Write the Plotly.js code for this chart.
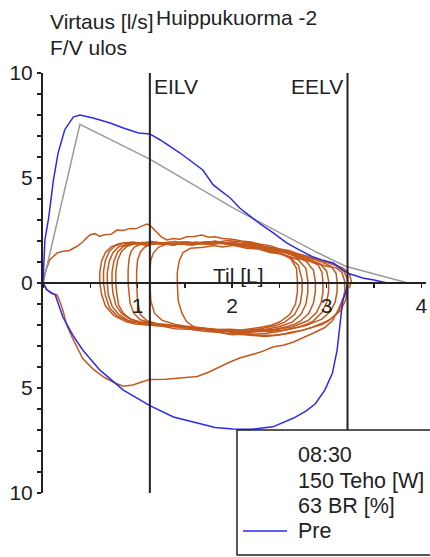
<!DOCTYPE html>
<html>
<head>
<meta charset="utf-8">
<script src="https://cdn.plot.ly/plotly-3.0.1.min.js"></script>
<style>html,body{margin:0;padding:0;background:#fff;}#chart{width:430px;height:557px;}</style>
</head>
<body>
<div id="chart"></div>
<script>
// ---------------- data ----------------
// Pre (maximal flow-volume curve), expiratory part
const preExpX = [0, 0.02, 0.06, 0.11, 0.16, 0.23, 0.32, 0.39, 0.53, 0.71, 0.85, 1.01, 1.13, 1.24, 1.45, 1.69, 1.80, 1.98, 2.08, 2.17, 2.30, 2.42, 2.58, 2.70, 2.85, 2.95, 3.07, 3.17, 3.23, 3.30, 3.38, 3.50, 3.59, 3.64];
const preExpY = [0, 2.05, 3.1, 4.9, 6.2, 7.3, 7.9, 8.0, 7.86, 7.62, 7.38, 7.14, 7.1, 6.81, 6.19, 5.38, 4.67, 4.05, 3.57, 3.24, 2.8, 2.43, 1.9, 1.6, 1.25, 1.1, 0.95, 0.62, 0.45, 0.36, 0.24, 0.14, 0.05, 0];
// Pre, inspiratory part
const preInspX = [3.22, 3.20, 3.17, 3.14, 3.11, 3.06, 2.98, 2.88, 2.78, 2.65, 2.43, 2.20, 2.01, 1.82, 1.63, 1.38, 1.13, 0.85, 0.60, 0.42, 0.32, 0.21, 0.13, 0.04, 0];
const preInspY = [0, -0.48, -0.81, -2.0, -3.2, -4.3, -5.1, -5.75, -6.1, -6.43, -6.85, -6.97, -6.95, -6.88, -6.67, -6.38, -5.84, -5.1, -4.14, -3.19, -2.52, -1.62, -0.57, -0.33, 0];
// Predicted curve (grey)
const predX = [0, 0.39, 1.13, 2.0, 2.9, 3.2, 3.86];
const predY = [0, 7.55, 5.9, 3.6, 1.45, 0.8, 0];
// First exercise breath (orange), expiratory from origin
const firstTopX = [0, 0.03, 0.07, 0.15, 0.20, 0.28, 0.36, 0.42, 0.45, 0.50, 0.55, 0.60, 0.65, 0.72, 0.78, 0.85, 0.92, 0.98, 1.05, 1.10, 1.13, 1.16, 1.20, 1.25, 1.31, 1.38, 1.45, 1.52, 1.60, 1.68, 1.75, 1.82, 1.90, 2.00, 2.10, 2.20, 2.30, 2.40, 2.50, 2.60, 2.70, 2.80, 2.90, 3.05, 3.17, 3.24, 3.26, 3.24];
const firstTopY = [0, 0.6, 1.1, 1.43, 1.5, 1.55, 1.75, 1.95, 2.1, 2.3, 2.35, 2.22, 2.3, 2.32, 2.52, 2.5, 2.6, 2.58, 2.72, 2.81, 2.75, 2.62, 2.4, 2.2, 2.05, 2.12, 2.08, 2.2, 2.22, 2.28, 2.18, 2.2, 2.12, 2.08, 2.0, 1.95, 1.85, 1.78, 1.62, 1.55, 1.38, 1.28, 1.12, 0.92, 0.72, 0.45, 0.1, -0.25];
// Orange inspiratory trace that ends at origin
const firstBotX = [0, 0.04, 0.09, 0.15, 0.18, 0.21, 0.25, 0.32, 0.42, 0.53, 0.65, 0.76, 0.85, 0.95, 1.05, 1.13, 1.30, 1.45, 1.63, 1.75, 1.84, 1.96, 2.08, 2.20, 2.30, 2.43, 2.55, 2.65, 2.76, 2.86, 2.98, 3.06, 3.12, 3.17, 3.21, 3.22];
const firstBotY = [0, -0.3, -0.5, -0.57, -0.9, -1.3, -2.0, -2.7, -3.6, -4.1, -4.5, -4.76, -4.92, -4.86, -4.7, -4.6, -4.58, -4.52, -4.45, -4.25, -4.05, -3.8, -3.57, -3.4, -3.29, -3.05, -2.95, -2.81, -2.6, -2.38, -2.12, -1.8, -1.29, -0.8, -0.35, 0];
// Tidal exercise loops (orange)
const loopX = [
 [0.60,0.60,0.62,0.66,0.72,0.81,0.95,1.05,1.15,1.25,1.40,1.52,1.62,1.70,1.82,1.92,2.00,2.12,2.25,2.38,2.50,2.62,2.75,2.85,2.95,3.03,3.10,3.18,3.22,3.22,3.20,3.15,3.05,2.95,2.85,2.72,2.60,2.45,2.30,2.18,2.00,1.85,1.70,1.55,1.40,1.25,1.10,0.98,0.88,0.75,0.66,0.62,0.60],
 [0.64,0.64,0.66,0.70,0.76,0.86,1.00,1.10,1.20,1.32,1.45,1.58,1.75,1.88,2.05,2.18,2.30,2.42,2.55,2.68,2.78,2.88,2.95,3.05,3.10,3.11,3.11,3.09,3.04,2.95,2.85,2.78,2.65,2.55,2.40,2.25,2.10,1.95,1.80,1.65,1.50,1.35,1.20,1.08,0.90,0.78,0.70,0.66,0.64],
 [0.68,0.68,0.70,0.74,0.80,0.90,1.05,1.15,1.25,1.38,1.50,1.65,1.80,1.95,2.10,2.22,2.35,2.48,2.60,2.72,2.80,2.93,3.00,3.02,3.02,3.00,2.95,2.86,2.78,2.70,2.60,2.48,2.35,2.20,2.05,1.90,1.75,1.60,1.45,1.30,1.18,1.05,0.90,0.80,0.73,0.69,0.68],
 [0.73,0.73,0.75,0.79,0.85,0.95,1.10,1.20,1.30,1.42,1.55,1.70,1.85,2.00,2.15,2.28,2.40,2.52,2.62,2.72,2.80,2.91,2.95,2.96,2.96,2.94,2.89,2.80,2.72,2.64,2.52,2.42,2.28,2.15,2.00,1.85,1.70,1.55,1.40,1.27,1.15,1.05,0.92,0.83,0.77,0.74,0.73],
 [0.77,0.77,0.79,0.83,0.89,0.99,1.15,1.25,1.35,1.48,1.60,1.75,1.90,2.05,2.20,2.32,2.45,2.55,2.65,2.72,2.78,2.86,2.88,2.88,2.86,2.81,2.72,2.65,2.56,2.45,2.35,2.22,2.08,1.95,1.80,1.65,1.50,1.35,1.22,1.10,1.02,0.92,0.85,0.80,0.78,0.77],
 [0.90,0.90,0.91,0.93,0.97,1.04,1.15,1.30,1.40,1.50,1.65,1.80,1.95,2.10,2.22,2.35,2.45,2.55,2.63,2.70,2.78,2.80,2.80,2.78,2.73,2.64,2.55,2.48,2.36,2.26,2.12,2.00,1.85,1.70,1.55,1.40,1.28,1.18,1.03,0.96,0.92,0.90],
 [0.99,0.99,1.00,1.03,1.08,1.16,1.28,1.38,1.45,1.58,1.70,1.85,2.00,2.12,2.25,2.35,2.45,2.53,2.60,2.70,2.74,2.74,2.72,2.66,2.56,2.48,2.40,2.30,2.18,2.05,1.92,1.78,1.65,1.52,1.40,1.30,1.22,1.10,1.03,1.00,0.99],
 [1.13,1.13,1.14,1.17,1.22,1.30,1.42,1.52,1.60,1.72,1.85,1.98,2.10,2.22,2.35,2.45,2.52,2.62,2.68,2.69,2.69,2.67,2.61,2.50,2.42,2.32,2.20,2.10,1.98,1.85,1.72,1.60,1.50,1.40,1.26,1.18,1.14,1.13],
 [1.42,1.42,1.44,1.48,1.56,1.70,1.80,1.90,2.02,2.15,2.28,2.40,2.52,2.65,2.75,2.85,2.93,3.00,3.10,3.16,3.19,3.19,3.17,3.12,3.02,2.95,2.86,2.75,2.62,2.50,2.35,2.20,2.05,1.92,1.80,1.70,1.60,1.52,1.47,1.43,1.42]
];
const loopY = [
 [0,0.5,1.05,1.45,1.72,1.88,1.95,1.88,1.98,1.9,1.97,1.86,1.95,1.9,2.0,1.9,1.95,1.85,1.82,1.7,1.62,1.45,1.32,1.15,1.05,0.95,0.82,0.55,0.2,-0.3,-0.8,-1.3,-1.7,-1.92,-2.1,-2.28,-2.4,-2.48,-2.5,-2.42,-2.46,-2.35,-2.3,-2.2,-2.18,-2.05,-2.0,-1.95,-1.85,-1.55,-1.1,-0.55,0],
 [0,0.55,1.08,1.5,1.76,1.9,1.86,1.8,1.94,1.85,1.88,1.8,1.96,1.88,1.85,1.9,1.74,1.66,1.5,1.35,1.22,1.1,1.0,0.78,0.45,0.05,-0.4,-0.9,-1.35,-1.72,-1.9,-2.02,-2.15,-2.25,-2.3,-2.32,-2.38,-2.26,-2.3,-2.18,-2.12,-2.05,-2.02,-1.96,-1.82,-1.55,-1.15,-0.6,0],
 [0,0.5,1.02,1.45,1.72,1.86,1.93,1.85,1.87,1.8,1.95,1.88,1.9,2.02,1.95,1.9,1.72,1.6,1.42,1.25,1.15,0.92,0.55,0.1,-0.4,-0.92,-1.4,-1.8,-1.98,-2.1,-2.2,-2.32,-2.4,-2.45,-2.38,-2.3,-2.2,-2.22,-2.1,-2.02,-1.98,-1.92,-1.78,-1.5,-1.1,-0.55,0],
 [0,0.52,1.05,1.48,1.74,1.88,1.82,1.9,1.92,1.84,1.86,1.95,1.93,1.86,1.8,1.76,1.62,1.5,1.38,1.22,1.1,0.85,0.5,0.05,-0.45,-0.95,-1.42,-1.8,-1.95,-2.08,-2.18,-2.26,-2.3,-2.35,-2.3,-2.27,-2.2,-2.12,-2.08,-2.0,-1.95,-1.88,-1.72,-1.45,-1.05,-0.5,0],
 [0,0.55,1.1,1.5,1.75,1.9,1.95,1.85,1.85,1.95,1.92,1.84,1.9,1.8,1.76,1.68,1.55,1.45,1.3,1.18,1.05,0.6,0.08,-0.4,-0.95,-1.45,-1.82,-1.98,-2.1,-2.2,-2.25,-2.28,-2.3,-2.24,-2.2,-2.15,-2.08,-2.04,-1.97,-1.9,-1.86,-1.7,-1.45,-1.05,-0.5,0],
 [0,0.6,1.15,1.5,1.72,1.86,1.92,1.88,1.82,1.95,1.9,1.86,1.92,1.74,1.7,1.56,1.48,1.32,1.22,1.1,0.7,0.1,-0.45,-1.0,-1.48,-1.85,-2.0,-2.1,-2.2,-2.25,-2.3,-2.28,-2.22,-2.18,-2.12,-2.05,-2.0,-1.95,-1.75,-1.45,-0.95,0],
 [0,0.55,1.1,1.48,1.73,1.86,1.9,1.84,1.95,1.88,1.86,1.95,1.8,1.76,1.68,1.58,1.45,1.38,1.25,0.85,0.15,-0.4,-0.98,-1.5,-1.85,-2.0,-2.08,-2.18,-2.24,-2.3,-2.28,-2.22,-2.18,-2.1,-2.05,-1.98,-1.95,-1.8,-1.5,-0.9,0],
 [0,0.55,1.1,1.45,1.7,1.84,1.9,1.82,1.85,1.95,1.92,1.84,1.8,1.7,1.6,1.5,1.4,1.15,0.7,0.1,-0.42,-1.0,-1.5,-1.86,-2.0,-2.1,-2.18,-2.24,-2.2,-2.22,-2.15,-2.1,-2.05,-1.98,-1.78,-1.45,-0.85,0],
 [0,0.5,1.05,1.45,1.65,1.7,1.78,1.72,1.8,1.65,1.62,1.45,1.38,1.2,1.12,1.0,0.92,0.8,0.72,0.5,0.1,-0.4,-0.9,-1.4,-1.8,-1.98,-2.1,-2.25,-2.35,-2.48,-2.55,-2.5,-2.45,-2.38,-2.3,-2.2,-2.1,-1.85,-1.45,-0.85,0]
];
const eilv = 1.13;
const eelv = 3.22;
const yTickVals = [-10, -5, 0, 5, 10];
const yTickText = ['10', '5', '0', '5', '10'];
const xTickVals = [1, 2, 3, 4];
const xTickText = ['1', '2', '3', '4'];

// ---------------- styling ----------------
const ORANGE = '#c4591e';
const BLUE = '#2b2bea';
const GREY = '#9a9a9a';
const DARK = '#222222';
const FONT = 'Liberation Sans, Arial, sans-serif';

// pixel layout helpers (plot area: x 43..426, y 73..493)
const L = 43, R = 4, T = 73, B = 64, W = 430, H = 557;
const PW = W - L - R, PH = H - T - B;
const px = v => (v - L) / PW;
const py = v => (H - B - v) / PH;

const traces = [];
loopX.forEach((lx, i) => {
  traces.push({x: lx, y: loopY[i], mode: 'lines', line: {color: ORANGE, width: 1.5}});
});
traces.push({x: firstTopX, y: firstTopY, mode: 'lines', line: {color: ORANGE, width: 1.5}});
traces.push({x: firstBotX, y: firstBotY, mode: 'lines', line: {color: ORANGE, width: 1.5}});
traces.push({x: predX, y: predY, mode: 'lines', line: {color: GREY, width: 1.5}});
traces.push({x: preExpX, y: preExpY, mode: 'lines', line: {color: BLUE, width: 1.5}, name: 'Pre'});
traces.push({x: preInspX, y: preInspY, mode: 'lines', line: {color: BLUE, width: 1.5}});
traces.push({x: [eilv, eilv], y: [-10, 10], mode: 'lines', line: {color: DARK, width: 2}});
traces.push({x: [eelv, eelv], y: [-10, 10], mode: 'lines', line: {color: DARK, width: 2}});

const tf = {family: FONT, size: 21, color: DARK};
const lf = {family: FONT, size: 21.5, color: DARK};
const ann = (text, x, y, xanchor, font) => ({text, x, y, xref: 'paper', yref: 'paper', xanchor: xanchor || 'left', yanchor: 'middle', showarrow: false, font: font || tf});

const layout = {
  width: W, height: H,
  margin: {l: L, r: R, t: T, b: B, pad: 0},
  paper_bgcolor: '#fff', plot_bgcolor: '#fff',
  showlegend: false,
  font: {family: FONT, color: DARK},
  xaxis: {
    range: [0, 4.05], anchor: 'free', position: 0.5,
    showgrid: false, zeroline: false, showline: true, linecolor: DARK, linewidth: 2,
    ticks: 'outside', ticklen: 4, tickwidth: 1.5, tickcolor: DARK,
    tickvals: xTickVals, ticktext: xTickText, tickfont: tf,
    minor: {dtick: 0.5, tick0: 0, ticks: 'outside', ticklen: 4, tickwidth: 1.5, tickcolor: DARK, showgrid: false}
  },
  yaxis: {
    range: [-10, 10],
    showgrid: false, zeroline: false, showline: true, linecolor: DARK, linewidth: 2,
    ticks: 'outside', ticklen: 4, tickwidth: 1.5, tickcolor: DARK,
    tickvals: yTickVals, ticktext: yTickText, tickfont: tf,
    minor: {dtick: 1, tick0: 0, ticks: 'outside', ticklen: 4, tickwidth: 1.5, tickcolor: DARK, showgrid: false}
  },
  shapes: [
    {type: 'rect', xref: 'paper', yref: 'paper', x0: px(237), x1: px(450), y0: py(555), y1: py(430),
     line: {color: DARK, width: 1.5}, fillcolor: '#fff', layer: 'above'},
    {type: 'line', xref: 'paper', yref: 'paper', x0: px(243), x1: px(287), y0: py(531), y1: py(531),
     line: {color: BLUE, width: 1.5}, layer: 'above'}
  ],
  annotations: [
    ann('Huippukuorma -2', px(154), py(17)),
    ann('Virtaus [l/s]', px(48), py(22)),
    ann('F/V ulos', px(48), py(47)),
    ann('EILV', px(152), py(86)),
    ann('EELV', px(345), py(86), 'right'),
    ann('Til [L]', px(211), py(275)),
    ann('08:30', px(296), py(455), 'left', lf),
    ann('150 Teho [W]', px(296), py(481), 'left', lf),
    ann('63 BR [%]', px(296), py(506), 'left', lf),
    ann('Pre', px(296), py(531), 'left', lf)
  ]
};

Plotly.newPlot('chart', traces, layout, {displayModeBar: false, staticPlot: true});
</script>
</body>
</html>
